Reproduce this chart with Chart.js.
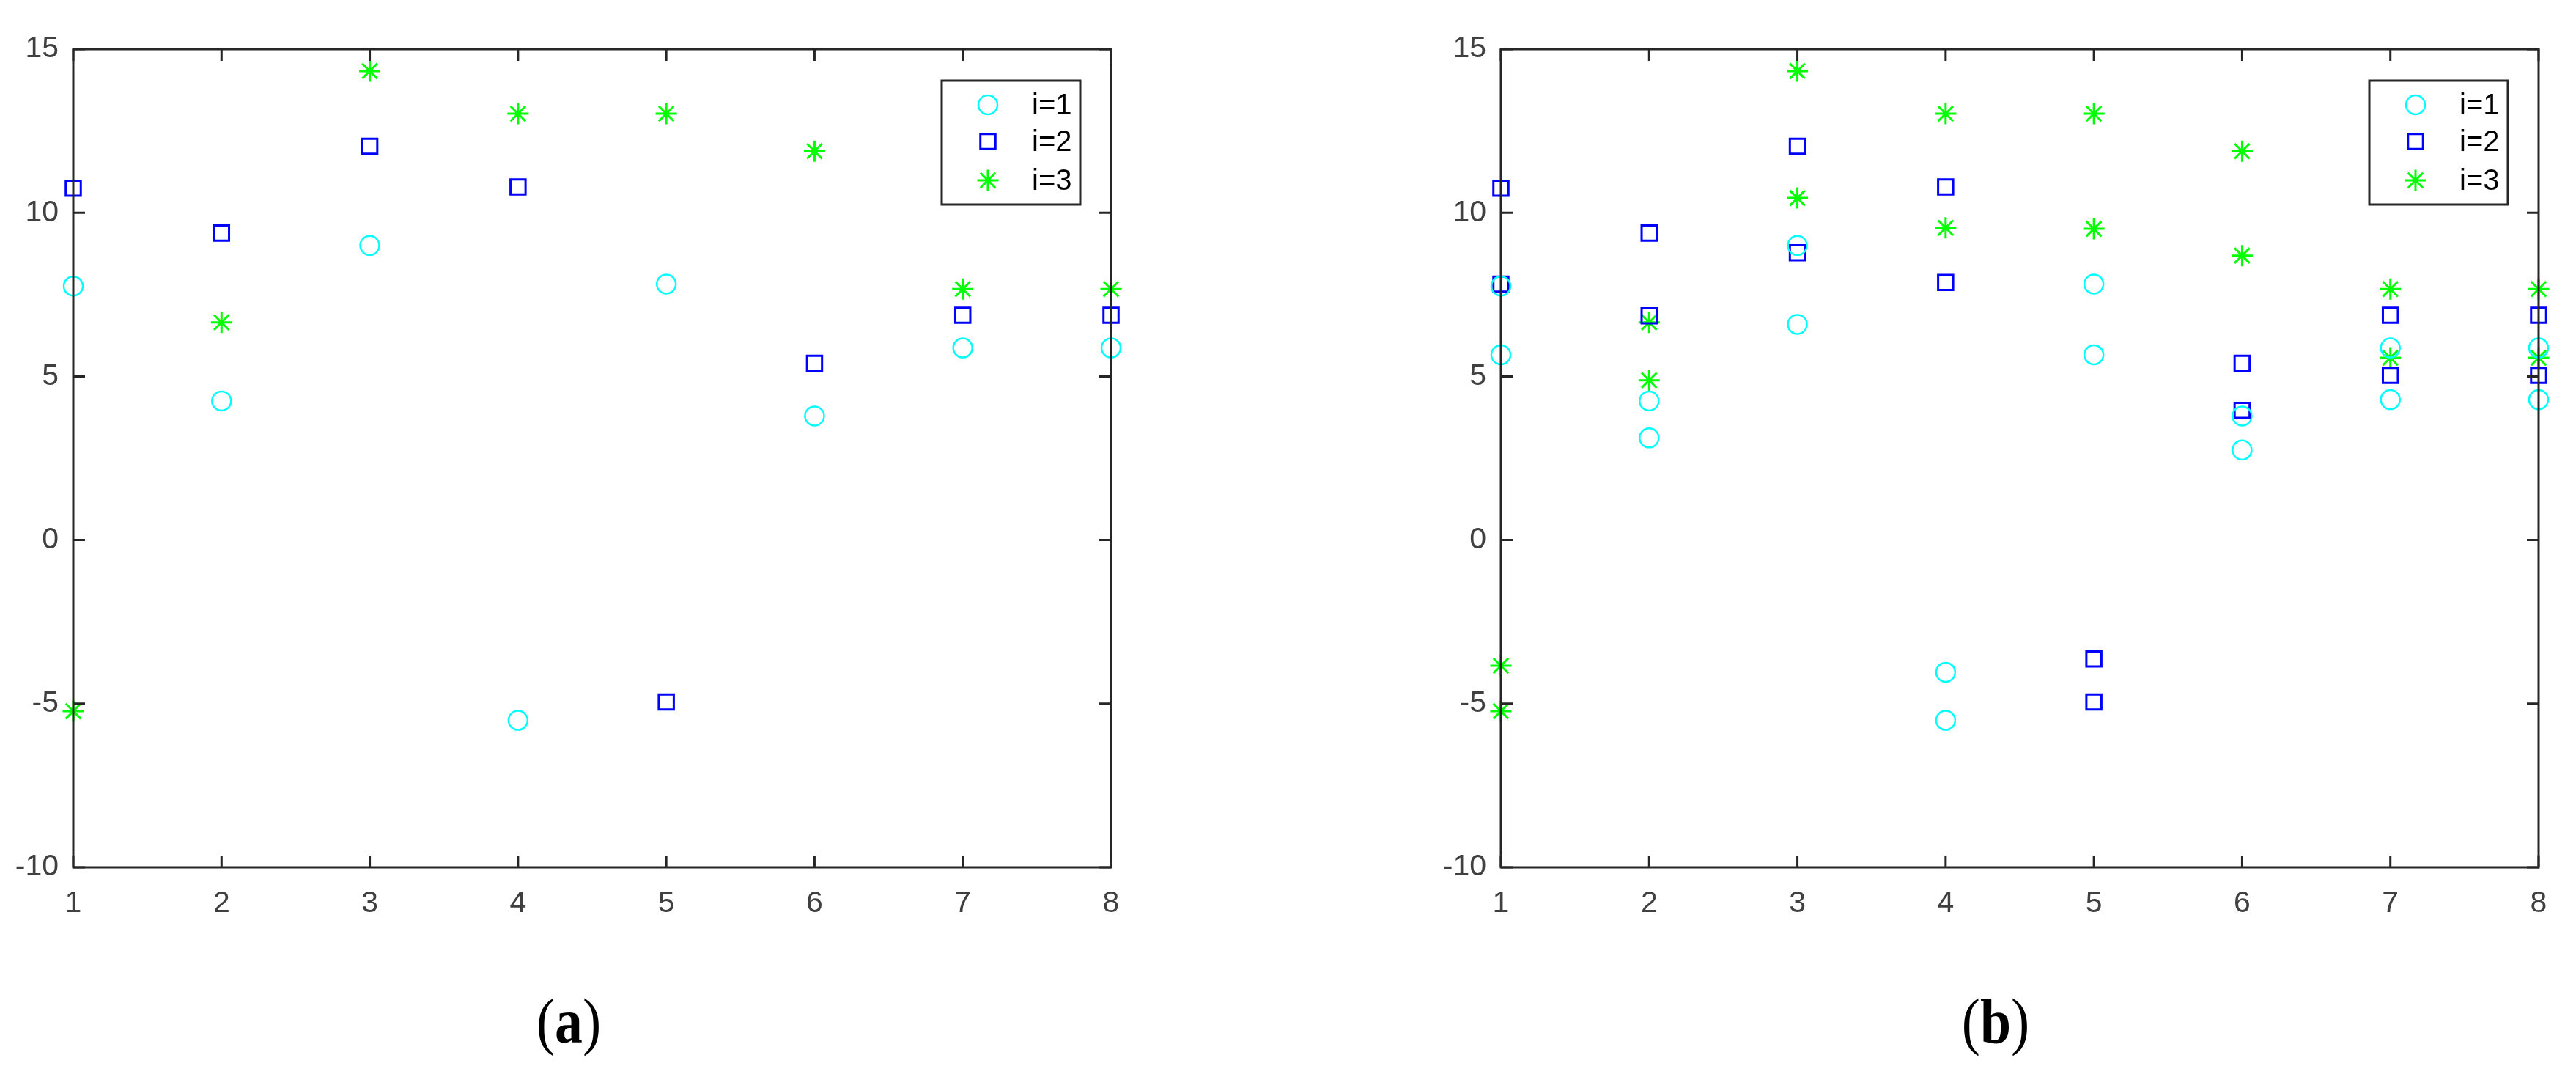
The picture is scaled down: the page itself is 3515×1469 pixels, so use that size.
<!DOCTYPE html>
<html lang="en">
<head>
<meta charset="UTF-8">
<title>i=1, i=2, i=3 scatter (a) (b)</title>
<style>
  body {
    margin: 0;
    background: #fff;
    width: 3515px;
    height: 1469px;
    position: relative;
    overflow: hidden;
  }
  canvas.panel {
    position: absolute;
    top: 0;
  }
  .cap {
    position: absolute;
    top: 1350px;
    width: 300px;
    text-align: center;
    font-family: "Liberation Serif", "Times New Roman", serif;
    font-size: 86px;
    line-height: 1;
    color: #000;
    transform: scaleX(0.88);
  }
</style>
<script src="https://cdn.jsdelivr.net/npm/chart.js"></script>
</head>
<body>
<canvas id="chartA" class="panel" width="1560" height="1260" style="left:0px"></canvas>
<canvas id="chartB" class="panel" width="1560" height="1260" style="left:1948px"></canvas>
<div class="cap" style="left:626px">(<b>a</b>)</div>
<div class="cap" style="left:2573px">(<b>b</b>)</div>
<script>
  // x positions and axis ticks
  const xValues = [1, 2, 3, 4, 5, 6, 7, 8];
  const yTicks = [-10, -5, 0, 5, 10, 15];
  const seriesNames = ['i=1', 'i=2', 'i=3'];

  // first set (panel a, also shown in panel b)
  const i1First = [7.76, 4.25, 9.0, -5.51, 7.82, 3.79, 5.87, 5.87];
  const i2First = [10.75, 9.38, 12.03, 10.79, -4.95, 5.4, 6.87, 6.87];
  const i3First = [-5.23, 6.65, 14.33, 13.03, 13.03, 11.88, 7.67, 7.67];

  // second set (only panel b)
  const i1Second = [5.66, 3.12, 6.59, -4.04, 5.66, 2.75, 4.29, 4.29];
  const i2Second = [7.82, 6.85, 8.78, 7.87, -3.63, 3.96, 5.03, 5.03];
  const i3Second = [-3.84, 4.88, 10.45, 9.54, 9.51, 8.69, 5.57, 5.57];

  const axisColor = '#262626';
  const labelColor = '#404040';
  const tickLen = 16;

  const markers = [
    { color: '#00ffff', style: 'circle', radius: 13, width: 2.5 },
    { color: '#0000ff', style: 'rect', radius: 14.5, width: 3 },
    { color: '#00ff00', style: 'star', radius: 14.5, width: 3 }
  ];

  function points(arr) {
    return xValues.map((x, i) => ({ x: x, y: arr[i] }));
  }

  function makeDatasets(sets) {
    return sets.map((vals, k) => ({
      label: seriesNames[k],
      data: vals,
      showLine: false,
      clip: false,
      pointStyle: markers[k].style,
      pointRadius: markers[k].radius,
      pointHoverRadius: markers[k].radius,
      pointBorderWidth: markers[k].width,
      pointBorderColor: markers[k].color,
      pointBackgroundColor: 'rgba(0,0,0,0)',
      borderColor: markers[k].color,
      backgroundColor: 'rgba(0,0,0,0)'
    }));
  }

  // box, inner ticks and the legend box (MATLAB look)
  const framePlugin = {
    id: 'frame',
    afterDatasetsDraw(chart) {
      const ctx = chart.ctx;
      const a = chart.chartArea;
      const sx = chart.scales.x, sy = chart.scales.y;
      ctx.save();
      ctx.strokeStyle = axisColor;
      ctx.lineWidth = 3;
      ctx.strokeRect(a.left, a.top, a.right - a.left, a.bottom - a.top);
      ctx.beginPath();
      sx.ticks.forEach(t => {
        const px = sx.getPixelForValue(t.value);
        ctx.moveTo(px, a.bottom); ctx.lineTo(px, a.bottom - tickLen);
        ctx.moveTo(px, a.top); ctx.lineTo(px, a.top + tickLen);
      });
      sy.ticks.forEach(t => {
        const py = sy.getPixelForValue(t.value);
        ctx.moveTo(a.left, py); ctx.lineTo(a.left + tickLen, py);
        ctx.moveTo(a.right, py); ctx.lineTo(a.right - tickLen, py);
      });
      ctx.stroke();

      // legend
      const w = 189, h = 169;
      const lx = a.right - 42 - w, ly = a.top + 43;
      ctx.fillStyle = '#fff';
      ctx.fillRect(lx, ly, w, h);
      ctx.strokeRect(lx, ly, w, h);
      const rows = [33, 83, 136];
      chart.data.datasets.forEach((ds, k) => {
        const my = ly + rows[k];
        ctx.strokeStyle = ds.pointBorderColor;
        ctx.fillStyle = 'rgba(0,0,0,0)';
        ctx.lineWidth = ds.pointBorderWidth;
        Chart.helpers.drawPoint(ctx, {
          pointStyle: ds.pointStyle,
          radius: ds.pointRadius,
          rotation: 0,
          borderWidth: ds.pointBorderWidth
        }, lx + 63, my);
        ctx.fillStyle = '#000';
        ctx.font = '40px "Liberation Sans", Arial, sans-serif';
        ctx.textBaseline = 'middle';
        ctx.textAlign = 'left';
        ctx.fillText(ds.label, lx + 123, my + 2);
      });
      ctx.restore();
    }
  };

  function drawPanel(id, sets) {
    const ctx = document.getElementById(id).getContext('2d');
    new Chart(ctx, {
      type: 'scatter',
      data: { datasets: makeDatasets(sets) },
      options: {
        responsive: false,
        devicePixelRatio: 1,
        animation: false,
        layout: { padding: { top: 67, right: 44, left: 0, bottom: 0 } },
        plugins: { legend: { display: false }, tooltip: { enabled: false } },
        scales: {
          x: {
            type: 'linear',
            min: 1,
            max: 8,
            afterFit: s => { s.height = 77; },
            grid: { display: false, drawTicks: false },
            border: { display: false },
            ticks: {
              stepSize: 1,
              padding: 25,
              color: labelColor,
              font: { family: '"Liberation Sans", Arial, sans-serif', size: 41 }
            }
          },
          y: {
            type: 'linear',
            min: yTicks[0],
            max: yTicks[yTicks.length - 1],
            afterFit: s => { s.width = 100; },
            grid: { display: false, drawTicks: false },
            border: { display: false },
            ticks: {
              stepSize: 5,
              padding: 20,
              color: labelColor,
              font: { family: '"Liberation Sans", Arial, sans-serif', size: 41 }
            }
          }
        }
      },
      plugins: [framePlugin]
    });
  }

  drawPanel('chartA', [points(i1First), points(i2First), points(i3First)]);
  drawPanel('chartB', [
    points(i1First).concat(points(i1Second)),
    points(i2First).concat(points(i2Second)),
    points(i3First).concat(points(i3Second))
  ]);
</script>
</body>
</html>
